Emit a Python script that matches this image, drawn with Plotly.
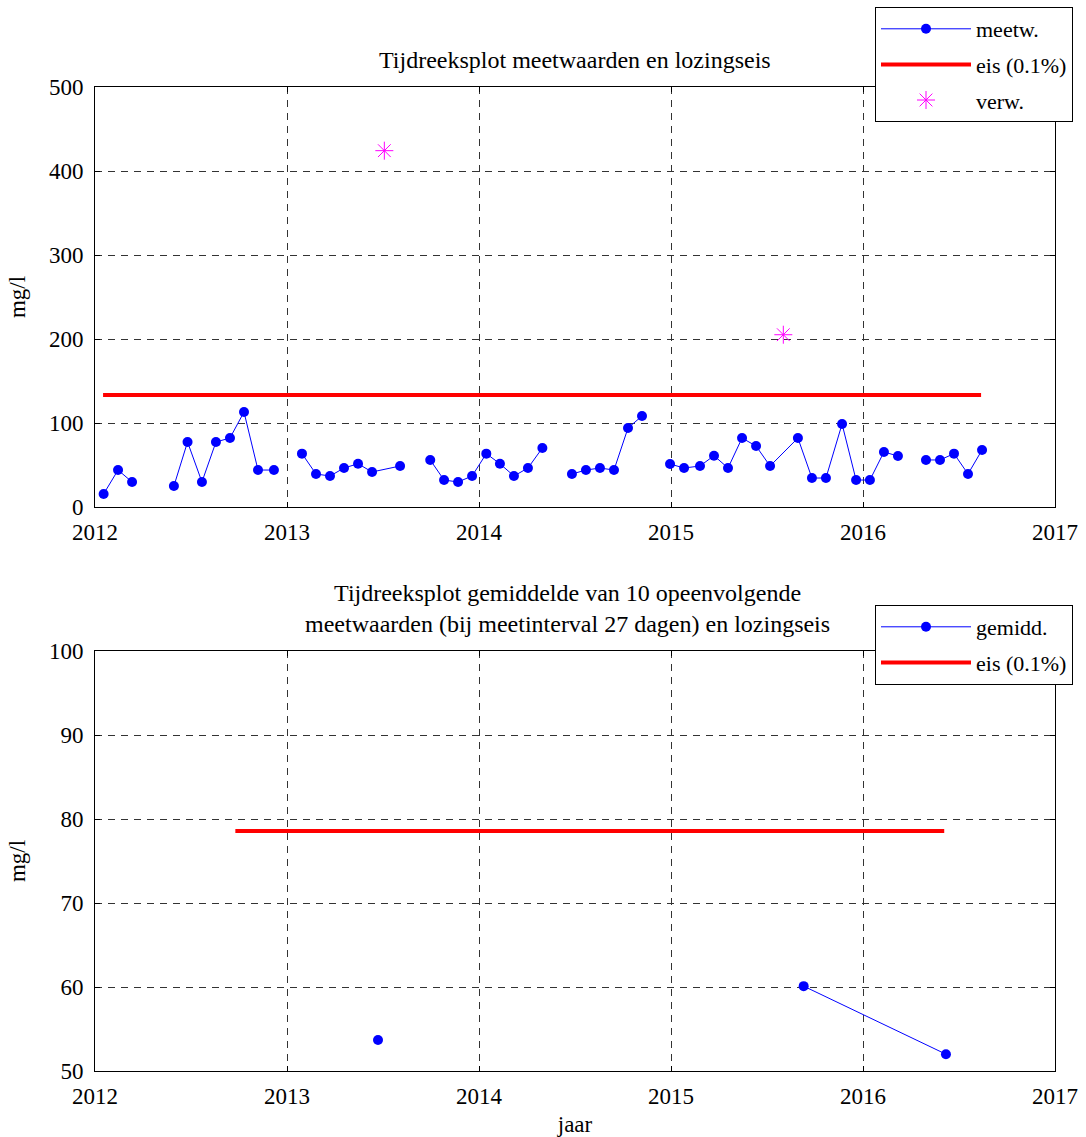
import plotly.graph_objects as go

# ---- data (decimal year, mg/l); None marks a missing measurement (line break)
meet_jaar = [2012.045, 2012.120, 2012.193, 2012.300, 2012.411, 2012.482, 2012.557, 2012.630,
             2012.703, 2012.776, 2012.849, 2012.932, 2013.000, 2013.078, 2013.151, 2013.224,
             2013.297, 2013.370, 2013.443, 2013.589, 2013.670, 2013.746, 2013.818, 2013.891,
             2013.964, 2014.038, 2014.109, 2014.182, 2014.255, 2014.330, 2014.410, 2014.484,
             2014.557, 2014.630, 2014.703, 2014.776, 2014.849, 2014.920, 2014.995, 2015.068,
             2015.151, 2015.224, 2015.297, 2015.370, 2015.443, 2015.516, 2015.661, 2015.734,
             2015.807, 2015.891, 2015.964, 2016.036, 2016.109, 2016.182, 2016.250, 2016.328,
             2016.401, 2016.474, 2016.547, 2016.620]
meet_waarde = [15.5, 44.0, 29.8, None, 25.0, 77.4, 29.8, 77.4,
               82.1, 113.1, 44.0, 44.0, None, 63.5, 39.3, 36.9,
               46.4, 51.5, 41.7, 48.8, None, 56.0, 32.1, 29.8,
               36.9, 63.5, 51.5, 36.9, 46.4, 70.2, None, 39.3,
               44.0, 46.4, 44.0, 94.0, 108.3, None, 51.2, 46.4,
               48.8, 61.1, 46.4, 82.1, 72.6, 48.8, 82.1, 34.5,
               34.5, 98.8, 32.1, 32.1, 65.5, 60.7, None, 56.0,
               56.0, 63.5, 39.3, 67.9]

verw_jaar = [2013.507, 2015.585]
verw_waarde = [424.2, 205.1]

eis_jaar = [2012.042, 2016.615]
eis_waarde = [133.3, 133.3]

gem_jaar = [2013.474, 2014.600, 2015.691, 2016.432]
gem_waarde = [53.7, None, 60.1, 52.0]

eis2_jaar = [2012.731, 2016.423]
eis2_waarde = [78.57, 78.57]

x_ticks = [2012, 2013, 2014, 2015, 2016, 2017]

FONT = "Liberation Serif"
FS = 23
FT = 24
FL = 22

fig = go.Figure()

fig.add_trace(go.Scatter(x=meet_jaar, y=meet_waarde, mode="lines+markers", name="meetw.",
                         line=dict(color="#0000ff", width=1),
                         marker=dict(color="#0000ff", size=10),
                         xaxis="x", yaxis="y", legend="legend", legendgroup="a"))
fig.add_trace(go.Scatter(x=eis_jaar, y=eis_waarde, mode="lines", name="eis (0.1%)",
                         line=dict(color="#ff0000", width=4),
                         xaxis="x", yaxis="y", legend="legend", legendgroup="b"))
fig.add_trace(go.Scatter(x=verw_jaar, y=verw_waarde, mode="markers", name="verw.",
                         marker=dict(symbol="asterisk-open", size=15, color="#ff00ff",
                                     line=dict(color="#ff00ff", width=1)),
                         xaxis="x", yaxis="y", legend="legend", legendgroup="c"))

fig.add_trace(go.Scatter(x=gem_jaar, y=gem_waarde, mode="lines+markers", name="gemidd.",
                         line=dict(color="#0000ff", width=1),
                         marker=dict(color="#0000ff", size=10),
                         xaxis="x2", yaxis="y2", legend="legend2", legendgroup="d"))
fig.add_trace(go.Scatter(x=eis2_jaar, y=eis2_waarde, mode="lines", name="eis (0.1%)",
                         line=dict(color="#ff0000", width=4),
                         xaxis="x2", yaxis="y2", legend="legend2", legendgroup="e"))

axis_style = dict(showline=True, linecolor="black", linewidth=1, mirror="ticks",
                  ticks="inside", ticklen=5, tickcolor="black",
                  showgrid=True, gridcolor="#333333", gridwidth=1, griddash="7px,6px",
                  zeroline=False, tickfont=dict(family=FONT, size=FS, color="black"))

top_dom = [(1071 - 507) / 984, 1.0]
bot_dom = [0.0, 420 / 984]

leg_style = dict(xanchor="left", yanchor="top", bgcolor="white", bordercolor="black",
                 borderwidth=1, font=dict(family=FONT, size=FL, color="black"),
                 itemwidth=90, tracegroupgap=4, traceorder="grouped")

fig.update_layout(
    width=1086, height=1137,
    margin=dict(l=95, r=31, t=87, b=66, autoexpand=False),
    paper_bgcolor="white", plot_bgcolor="white",
    font=dict(family=FONT, size=FS, color="black"),
    showlegend=True,
    xaxis=dict(domain=[0, 1], range=[2012, 2017], tickvals=x_ticks, anchor="y",
               ticklabelstandoff=4, **axis_style),
    yaxis=dict(domain=top_dom, range=[0, 500], dtick=100, anchor="x", ticklabelstandoff=6,
               title=dict(text="mg/l", standoff=16, font=dict(family=FONT, size=FS)), **axis_style),
    xaxis2=dict(domain=[0, 1], range=[2012, 2017], tickvals=x_ticks, anchor="y2",
                ticklabelstandoff=4,
                title=dict(text="jaar", standoff=8, font=dict(family=FONT, size=FS)), **axis_style),
    yaxis2=dict(domain=bot_dom, range=[50, 100], dtick=10, anchor="x2", ticklabelstandoff=6,
                title=dict(text="mg/l", standoff=16, font=dict(family=FONT, size=FS)), **axis_style),
    legend=dict(x=(875 - 95) / 960, y=1 + (87 - 7) / 984, **leg_style),
    legend2=dict(x=(875 - 95) / 960, y=(1071 - 605) / 984, **leg_style),
    annotations=[
        dict(text="Tijdreeksplot meetwaarden en lozingseis", xref="paper", yref="paper",
             x=0.5, y=1 + (87 - 60) / 984, xanchor="center", yanchor="middle",
             showarrow=False, font=dict(family=FONT, size=FT, color="black")),
        dict(text="Tijdreeksplot gemiddelde van 10 opeenvolgende<br>meetwaarden (bij meetinterval 27 dagen) en lozingseis",
             xref="paper", yref="paper", x=0.4917, y=(1071 - 608) / 984,
             xanchor="center", yanchor="middle", align="center",
             showarrow=False, font=dict(family=FONT, size=FT, color="black")),
    ],
)

fig.write_html("out.html")
